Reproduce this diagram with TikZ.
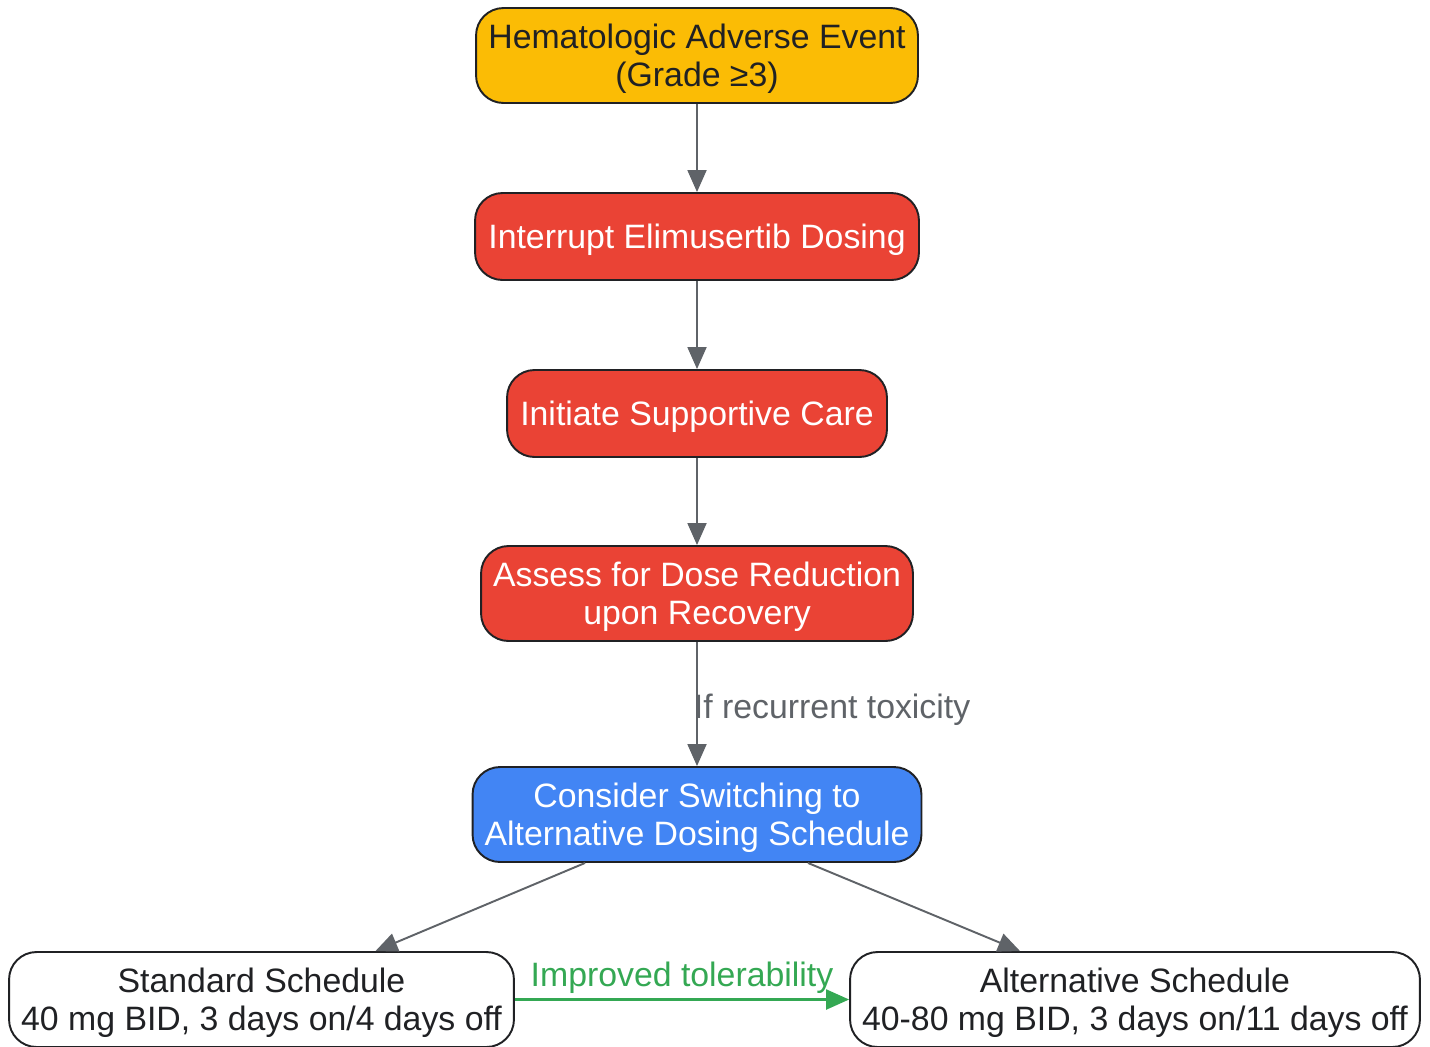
\documentclass[tikz,border=0pt]{standalone}
\usepackage{fontspec}
\setmainfont{Liberation Sans}
\usepackage{xcolor}
\usepackage{tikz}
\usetikzlibrary{arrows.meta,positioning,calc}
\definecolor{aeyellow}{HTML}{FBBC05}
\definecolor{stepred}{HTML}{EA4335}
\definecolor{switchblue}{HTML}{4285F4}
\definecolor{edgegray}{HTML}{5F6368}
\definecolor{goodgreen}{HTML}{34A853}
\definecolor{inkdark}{HTML}{202124}

\begin{document}
\begin{tikzpicture}[
  x=0.02cm, y=-0.02cm,
  box/.style={draw=inkdark, line width=1.1pt, rounded corners=0.55cm, align=center, inner sep=2pt,
    font=\fontsize{19.25}{21.6}\selectfont, minimum height=1.9cm, text depth=0pt},
  eventbox/.style={box, fill=aeyellow, text=inkdark},
  actionbox/.style={box, fill=stepred, text=white},
  switchbox/.style={box, fill=switchblue, text=white},
  schedbox/.style={box, fill=white, text=inkdark},
  flow/.style={-{Triangle[length=0.44cm, width=0.38cm]}, draw=edgegray, fill=edgegray, line width=1.1pt},
  goodflow/.style={-{Triangle[length=0.46cm, width=0.4cm]}, draw=goodgreen, fill=goodgreen, line width=1.3pt},
  flowlabel/.style={font=\fontsize{19.25}{21.6}\selectfont, inner sep=0pt}
]
\useasboundingbox (0,0) rectangle (1430,1046);

\node[eventbox, minimum width=8.84cm] (ae) at (697,55.5) {Hematologic Adverse Event\\(Grade ≥3)};
\node[actionbox, minimum width=8.88cm, minimum height=1.74cm] (interrupt) at (697,236.5) {Interrupt Elimusertib Dosing};
\node[actionbox, minimum width=7.6cm, minimum height=1.74cm] (support) at (697,413.5) {Initiate Supportive Care};
\node[actionbox, minimum width=8.64cm] (assess) at (697,593.5) {Assess for Dose Reduction\\upon Recovery};
\node[switchbox, minimum width=8.98cm] (switch) at (697,814.5) {Consider Switching to\\Alternative Dosing Schedule};
\node[schedbox, minimum width=10.1cm] (standard) at (261.5,999.5) {Standard Schedule\\40 mg BID, 3 days on/4 days off};
\node[schedbox, minimum width=11.4cm] (altsched) at (1135,999.5) {Alternative Schedule\\40-80 mg BID, 3 days on/11 days off};

\draw[flow] (ae) -- (interrupt);
\draw[flow] (interrupt) -- (support);
\draw[flow] (support) -- (assess);
\draw[flow] (assess) --
  node[flowlabel, anchor=west, text=edgegray, xshift=-0.08cm, yshift=-0.12cm] {If recurrent toxicity}
  (switch);

\draw[flow] ([xshift=-2.24cm]switch.south) -- ([xshift=2.28cm]standard.north);
\draw[flow] ([xshift=2.22cm]switch.south) -- ([xshift=-2.3cm]altsched.north);

\draw[goodflow] (standard) --
  node[flowlabel, above=0.09cm, text=goodgreen] {Improved tolerability}
  (altsched);
\end{tikzpicture}
\end{document}
